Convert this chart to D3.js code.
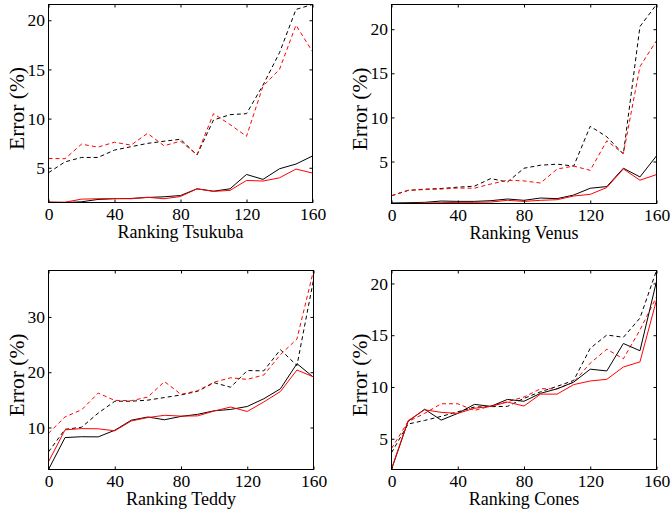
<!DOCTYPE html>
<html>
<head>
<meta charset="utf-8">
<script src="https://cdn.jsdelivr.net/npm/d3@7/dist/d3.min.js"></script>
<style>
  html, body { margin: 0; padding: 0; background: #fff; }
  svg { display: block; }
  text { font-family: "Liberation Serif", "Times New Roman", serif; fill: #000; }
</style>
</head>
<body>
<svg id="chart" width="671" height="510"></svg>
<script>
// ---- data ----
const ranking = [0, 10, 20, 30, 40, 50, 60, 70, 80, 90, 100, 110, 120, 130, 140, 150, 160];
const xTicks = [0, 40, 80, 120, 160];

const tsukubaBlackSolid = [1.5, 1.47, 1.54, 1.78, 1.85, 1.88, 1.98, 2.05, 2.18, 2.86, 2.62, 2.86, 4.32, 3.82, 4.9, 5.38, 6.2];
const tsukubaRedSolid   = [1.5, 1.5, 1.81, 1.85, 1.88, 1.85, 2.0, 1.85, 2.08, 2.86, 2.6, 2.7, 3.71, 3.65, 3.98, 4.87, 4.46];
const tsukubaBlackDash  = [4.5, 5.6, 6.05, 6.05, 6.8, 7.14, 7.48, 7.7, 7.9, 6.3, 9.86, 10.4, 10.5, 13.4, 16.7, 21.1, 21.6];
const tsukubaRedDash    = [5.95, 5.92, 7.4, 7.1, 7.6, 7.3, 8.5, 7.24, 7.7, 6.33, 10.5, 9.4, 8.2, 13.3, 15.0, 19.5, 16.8];
const tsukubaYTicks = [5, 10, 15, 20];

const venusBlackSolid = [0.3, 0.33, 0.37, 0.52, 0.48, 0.48, 0.56, 0.75, 0.6, 0.86, 0.79, 1.2, 1.97, 2.16, 4.24, 3.25, 5.64];
const venusRedSolid   = [0.24, 0.24, 0.3, 0.33, 0.37, 0.37, 0.41, 0.6, 0.48, 0.6, 0.67, 1.09, 1.28, 2.05, 4.16, 2.88, 3.52];
const venusBlackDash  = [1.12, 1.72, 1.86, 1.94, 2.09, 2.2, 3.07, 2.67, 4.24, 4.58, 4.7, 4.48, 9.0, 7.8, 5.85, 20.3, 22.8];
const venusRedDash    = [1.12, 1.74, 1.82, 1.88, 1.99, 1.97, 2.45, 2.88, 2.8, 2.56, 4.15, 4.48, 4.0, 7.35, 5.9, 15.76, 18.7];
const venusYTicks = [5, 10, 15, 20];

const teddyBlackSolid = [2.4, 8.18, 8.33, 8.3, 9.5, 11.32, 11.9, 11.4, 12.0, 12.38, 13.02, 13.27, 13.8, 15.2, 17.0, 21.55, 19.08];
const teddyRedSolid   = [3.8, 9.57, 9.8, 9.76, 9.4, 11.18, 11.8, 12.2, 12.06, 12.1, 12.98, 13.7, 12.9, 14.62, 16.5, 20.4, 19.15];
const teddyBlackDash  = [5.6, 9.67, 10.05, 12.6, 14.75, 14.75, 14.95, 15.42, 15.88, 16.55, 18.1, 17.28, 20.3, 20.25, 24.08, 21.2, 36.7];
const teddyRedDash    = [8.95, 11.92, 13.2, 16.22, 14.9, 14.85, 15.5, 18.3, 16.0, 16.65, 18.2, 19.0, 18.7, 19.5, 23.18, 26.0, 38.4];
const teddyYTicks = [10, 20, 30];

const conesBlackSolid = [2.03, 6.68, 7.85, 6.8, 7.45, 8.32, 8.13, 8.8, 8.62, 9.39, 9.82, 10.47, 11.72, 11.55, 14.2, 13.5, 20.2];
const conesRedSolid   = [2.1, 6.74, 7.8, 7.55, 7.45, 7.94, 8.13, 8.54, 8.16, 9.31, 9.31, 10.23, 10.58, 10.74, 11.93, 12.42, 18.4];
const conesBlackDash  = [3.65, 6.42, 6.77, 7.16, 7.6, 8.06, 8.1, 8.13, 8.9, 9.54, 10.06, 10.63, 13.74, 15.02, 14.8, 16.65, 21.25];
const conesRedDash    = [4.06, 6.65, 7.45, 8.38, 8.38, 7.73, 8.16, 8.58, 9.03, 9.83, 9.83, 10.46, 12.3, 13.65, 12.72, 15.5, 18.7];
const conesYTicks = [5, 10, 15, 20];

const xLabels = ["Ranking Tsukuba", "Ranking Venus", "Ranking Teddy", "Ranking Cones"];
const yLabel = "Error (%)";

// ---- layout ----
const panels = [
  { box: [48.5, 312.5, 4.5, 202.5], series: [tsukubaBlackDash, tsukubaRedDash, tsukubaBlackSolid, tsukubaRedSolid], yTicks: tsukubaYTicks, xLabel: xLabels[0] },
  { box: [391.5, 656.5, 4.5, 203.5], series: [venusBlackDash, venusRedDash, venusBlackSolid, venusRedSolid], yTicks: venusYTicks, xLabel: xLabels[1] },
  { box: [48.5, 313.5, 270.5, 469.5], series: [teddyBlackDash, teddyRedDash, teddyBlackSolid, teddyRedSolid], yTicks: teddyYTicks, xLabel: xLabels[2] },
  { box: [391.5, 656.5, 270.5, 469.5], series: [conesBlackDash, conesRedDash, conesBlackSolid, conesRedSolid], yTicks: conesYTicks, xLabel: xLabels[3] }
];
const styles = [
  { color: "#000000", dash: "4,3" },
  { color: "#ff0000", dash: "4,3" },
  { color: "#000000", dash: null },
  { color: "#ff0000", dash: null }
];

const svg = d3.select("#chart");
const tickFont = 17.5;

panels.forEach((p, pi) => {
  const [l, r, t, b] = p.box;
  const all = p.series.flat();
  const x = d3.scaleLinear().domain([0, 160]).range([l, r]);
  const y = d3.scaleLinear().domain(d3.extent(all)).range([b, t]);
  const g = svg.append("g");

  const clipId = "clip" + pi;
  g.append("clipPath").attr("id", clipId).append("rect")
    .attr("x", l).attr("y", t - 1).attr("width", r - l).attr("height", b - t + 2);

  const line = d3.line().x((d, i) => x(ranking[i])).y(d => y(d));
  const lg = g.append("g").attr("clip-path", `url(#${clipId})`);
  p.series.forEach((s, si) => {
    lg.append("path").datum(s)
      .attr("d", line)
      .attr("fill", "none")
      .attr("stroke", styles[si].color)
      .attr("stroke-width", 1)
      .attr("stroke-dasharray", styles[si].dash);
  });

  const styleAxis = sel => {
    sel.select(".domain").remove();
    sel.selectAll(".tick line").attr("stroke", "#000");
    sel.selectAll(".tick text").style("font-size", tickFont + "px").attr("fill", "#000");
  };
  g.append("g").attr("transform", `translate(0,${b})`)
    .call(d3.axisBottom(x).tickValues(xTicks).tickSizeInner(-3).tickSizeOuter(0).tickPadding(5.5).tickFormat(d3.format("d")))
    .call(styleAxis);
  g.append("g").attr("transform", `translate(0,${t})`)
    .call(d3.axisTop(x).tickValues(xTicks).tickSizeInner(-3).tickSizeOuter(0).tickFormat(""))
    .call(styleAxis);
  g.append("g").attr("transform", `translate(${l},0)`)
    .call(d3.axisLeft(y).tickValues(p.yTicks).tickSizeInner(-3).tickSizeOuter(0).tickPadding(3.5).tickFormat(d3.format("d")))
    .call(styleAxis);
  g.append("g").attr("transform", `translate(${r},0)`)
    .call(d3.axisRight(y).tickValues(p.yTicks).tickSizeInner(-3).tickSizeOuter(0).tickFormat(""))
    .call(styleAxis);

  g.append("rect").attr("x", l).attr("y", t).attr("width", r - l).attr("height", b - t)
    .attr("fill", "none").attr("stroke", "#000").attr("stroke-width", 1);

  g.append("text")
    .attr("x", (l + r) / 2).attr("y", b + 35)
    .attr("text-anchor", "middle")
    .style("font-size", "18px")
    .text(p.xLabel);

  g.append("text")
    .attr("transform", `translate(${l - 25},${(t + b) / 2 + 5}) rotate(-90)`)
    .attr("text-anchor", "middle")
    .style("font-size", "21.5px")
    .text(yLabel);
});
</script>
</body>
</html>
